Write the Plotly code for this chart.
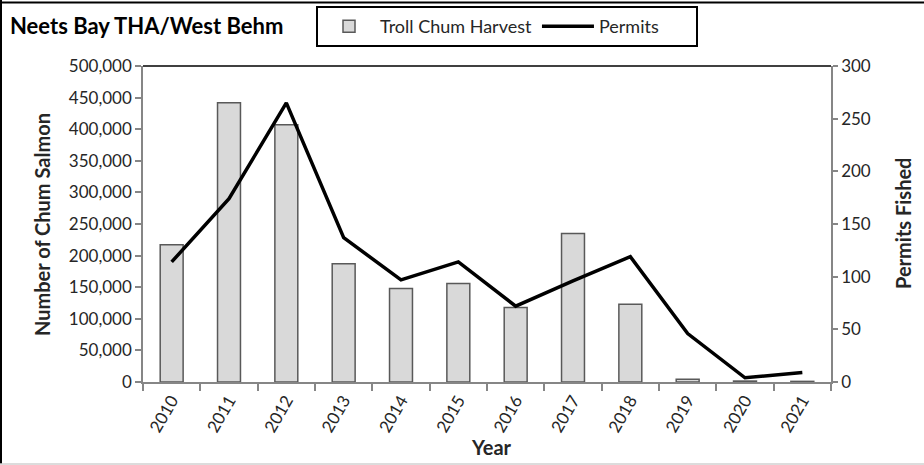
import plotly.graph_objects as go

years = ["2010", "2011", "2012", "2013", "2014", "2015", "2016", "2017", "2018", "2019", "2020", "2021"]
harvest = [217000, 442000, 407000, 187000, 148000, 156000, 118000, 235000, 123000, 4500, 1500, 1000]
permits = [114, 174, 265, 137, 97, 114, 72, 96, 119, 46, 4, 9]

W, H = 924, 465
L, R, T, B = 143, 831, 66, 382
pw, ph = R - L, B - T

def px(x):
    return (x - L) / pw

def py(y):
    return (B - y) / ph

FONT = "Lato"
TXT = "#262626"
AX = "#868686"
NB = "\u00a0"

fig = go.Figure()
fig.add_trace(go.Bar(
    x=years, y=harvest, name="Troll Chum Harvest",
    marker=dict(color="#d9d9d9", line=dict(color="#595959", width=1.5)),
))
fig.add_trace(go.Scatter(
    x=years, y=permits, name="Permits" + NB * 7, yaxis="y2", mode="lines",
    line=dict(color="black", width=3.5),
))

fig.update_layout(
    width=W, height=H,
    margin=dict(l=L, r=W - R, t=T, b=H - B, pad=0, autoexpand=False),
    paper_bgcolor="white", plot_bgcolor="white",
    font=dict(family=FONT, size=17, color=TXT),
    bargap=0.6,
    showlegend=True,
    legend=dict(
        orientation="h", x=316 / W, y=1 - 6 / H, xanchor="left", yanchor="top",
        xref="container", yref="container",
        bordercolor="black", borderwidth=2, bgcolor="white",
        font=dict(family=FONT, size=18, color=TXT),
        itemwidth=52, tracegroupgap=0,
    ),
    title=dict(
        text="<b>Neets Bay THA/West Behm</b>", x=10 / W, xanchor="left",
        y=1 - 26 / H, yanchor="middle", xref="container", yref="container",
        font=dict(family=FONT, size=22, color="black"),
    ),
    xaxis=dict(
        type="category", range=[-0.5, 11.5], tickson="boundaries",
        ticks="outside", ticklen=7, tickcolor=AX, tickwidth=1.5,
        showline=True, linecolor=AX, linewidth=1.5, showgrid=False,
        tickangle=-60, tickfont=dict(size=17, color=TXT), automargin=False,
    ),
    yaxis=dict(
        range=[0, 500000], dtick=50000, tickformat=",d",
        ticks="outside", ticklen=6, tickcolor=AX, tickwidth=1.5,
        showline=True, linecolor=AX, linewidth=1.5, showgrid=False,
        zeroline=False, tickfont=dict(size=17, color=TXT), automargin=False,
    ),
    yaxis2=dict(
        range=[0, 300], dtick=50, overlaying="y", side="right",
        ticks="outside", ticklen=5, tickcolor=AX, tickwidth=1.5,
        showline=True, linecolor=AX, linewidth=1.5, showgrid=False,
        zeroline=False, tickfont=dict(size=17, color=TXT), automargin=False,
    ),
    annotations=[
        dict(text="<b>Number of Chum Salmon</b>", x=px(42), y=0.5, xref="paper", yref="paper",
             textangle=-90, showarrow=False, xanchor="center", yanchor="middle",
             font=dict(family=FONT, size=20, color=TXT)),
        dict(text="<b>Permits Fished</b>", x=px(903), y=0.5, xref="paper", yref="paper",
             textangle=-90, showarrow=False, xanchor="center", yanchor="middle",
             font=dict(family=FONT, size=20, color=TXT)),
        dict(text="<b>Year</b>", x=px(491), y=py(447), xref="paper", yref="paper",
             showarrow=False, xanchor="center", yanchor="middle",
             font=dict(family=FONT, size=20, color=TXT)),
    ],
    shapes=[
        dict(type="line", xref="paper", yref="paper", x0=0, x1=1, y0=1, y1=1,
             line=dict(color="black", width=1.5)),
        dict(type="line", xref="paper", yref="paper", x0=px(0), x1=px(W), y0=py(2.5), y1=py(2.5),
             line=dict(color="black", width=2)),
        dict(type="line", xref="paper", yref="paper", x0=px(1), x1=px(1), y0=py(0), y1=py(464),
             line=dict(color="black", width=2)),
        dict(type="line", xref="paper", yref="paper", x0=px(0), x1=px(W), y0=py(464), y1=py(464),
             line=dict(color="#d0d0d0", width=1.5)),
    ],
)

fig.write_html(
    "out.html",
    config={"displayModeBar": False},
    post_script="document.body.style.margin='0';document.body.style.overflow='hidden';",
)
